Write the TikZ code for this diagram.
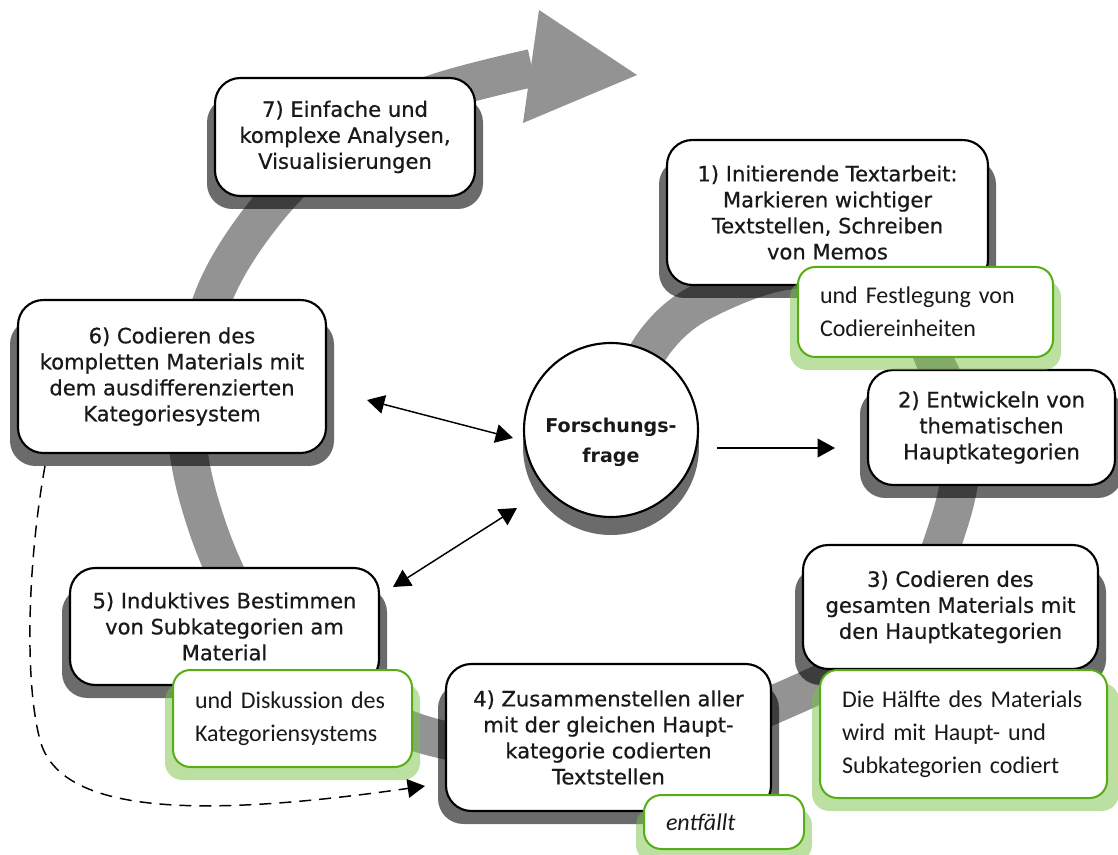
\documentclass[tikz,border=0pt]{standalone}
\usepackage{fontspec}
\usetikzlibrary{arrows.meta}
\newfontfamily\boxfont[FakeBold=0.6]{DejaVu Sans}
\newfontfamily\circfont{DejaVu Sans}
\newfontfamily\notefont{Carlito}
\definecolor{bandgray}{RGB}{147,147,147}
\definecolor{textgray}{RGB}{25,25,25}
\definecolor{greenborder}{RGB}{85,175,20}
\definecolor{greenshad}{RGB}{120,195,70}
\tikzset{
  bandline/.style={line width=28.5pt, draw=bandgray, line cap=butt},
  boxshadow/.style={fill=black, fill opacity=0.58, rounded corners=19pt},
  stagebox/.style={draw=black, line width=1.6pt, fill=white, rounded corners=19pt,
    align=center, inner sep=0pt, text=textgray,
    font=\boxfont\fontsize{15.8pt}{19.5pt}\selectfont},
  greenshadow/.style={fill=greenshad, fill opacity=0.5, rounded corners=13pt},
  notebox/.style={draw=greenborder, line width=1.5pt, fill=white, rounded corners=13pt,
    align=left, inner ysep=0pt, inner xsep=16.5pt, text=black!90,
    font=\notefont\fontsize{18pt}{24.75pt}\selectfont},
  tip/.tip={Triangle[length=13pt,width=14pt]},
  link/.style={line width=1.1pt, -tip},
  duallink/.style={line width=1.1pt, tip-tip},
  dashlink/.style={line width=1.1pt, dash pattern=on 9pt off 6pt, -tip},
}
\begin{document}
\begin{tikzpicture}[x=0.75pt,y=-0.75pt]
\clip (0,0) rectangle (1118,855);
\fill[white] (0,0) rectangle (1118,855);

% spiral band
\draw[bandline] plot[smooth, tension=0.55] coordinates {
  (615,420) (654,343) (705,300) (800,270) (900,305) (938,368) (962,435)
  (950,520) (900,630) (800,693) (620,755) (440,739) (330,688) (250,615)
  (205,520) (187,420) (213,298) (267,210) (340,140) (430,95) (532,68)};
\fill[bandgray] (539,10) -- (637,75) -- (523,123) -- cycle;

% box shadows
\fill[boxshadow] (207,97) rectangle (483,209);
\fill[boxshadow] (659,159) rectangle (996,298);
\fill[boxshadow] (860,389) rectangle (1123,498);
\fill[boxshadow] (795,567) rectangle (1106,685);
\fill[boxshadow] (438,683) rectangle (779,824);
\fill[boxshadow] (62,587) rectangle (387,698);
\fill[boxshadow] (10,319) rectangle (334,466);
\fill[boxshadow] (611,447) circle[radius=66pt];

% stage boxes
\node[stagebox, minimum width=195pt, minimum height=88.5pt] (b7) at (345,137)
  {7) Einfache und\\komplexe Analysen,\\Visualisierungen};
\node[stagebox, minimum width=240.75pt, minimum height=108.75pt] (b1) at (827.5,212.5)
  {1) Initierende Textarbeit:\\Markieren wichtiger\\Textstellen, Schreiben\\von Memos};
\node[stagebox, minimum width=185.25pt, minimum height=86.25pt] (b2) at (991.5,427.5)
  {2) Entwickeln von\\thematischen\\Hauptkategorien};
\node[stagebox, minimum width=221.25pt, minimum height=93pt] (b3) at (950.5,607)
  {3) Codieren des\\gesamten Materials mit\\den Hauptkategorien};
\node[stagebox, minimum width=243.75pt, minimum height=110.25pt] (b4) at (608.5,737.5)
  {4) Zusammenstellen aller\\mit der gleichen Haupt-\\kategorie codierten\\Textstellen};
\node[stagebox, minimum width=231.75pt, minimum height=87.75pt] (b5) at (224.5,626.5)
  {5) Induktives Bestimmen\\von Subkategorien am\\Material};
\node[stagebox, minimum width=231pt, minimum height=114.75pt] (b6) at (172,376.5)
  {6) Codieren des\\kompletten Materials mit\\dem ausdifferenzierten\\Kategoriesystem};

% centre circle
\node[draw=black, line width=1.6pt, fill=white, circle, minimum size=130.5pt, inner sep=0pt,
  label={[align=center, text=textgray, yshift=-9pt,
    font=\circfont\bfseries\fontsize{14.3pt}{22.5pt}\selectfont]center:Forschungs-\\frage}]
  (fq) at (611,430) {};

% green note shadows
\fill[greenshadow] (790,280) rectangle (1061,370);
\fill[greenshadow] (165,683) rectangle (420,780);
\fill[greenshadow] (812,683) rectangle (1119,811);
\fill[greenshadow] (636,808) rectangle (812,862);

% green notes
\node[notebox, minimum width=191.25pt, minimum height=67.5pt, text width=158.25pt] (g1) at (925.5,312)
  {und Festlegung von\\Codiereinheiten};
\node[notebox, minimum width=179.25pt, minimum height=72.75pt, text width=146.25pt] (g5) at (292.5,718.5)
  {und Diskussion des\\Kategoriensystems};
\node[notebox, minimum width=215.25pt, minimum height=96pt, text width=182.25pt] (g3) at (963.5,734)
  {Die Hälfte des Materials\\wird mit Haupt- und\\Subkategorien codiert};
\node[notebox, minimum width=120pt, minimum height=40.5pt, text width=87pt] (ge) at (724,822)
  {\itshape entfällt};

% connectors
\coordinate (a6) at (367,400);
\coordinate (c6) at (513,438);
\coordinate (a5) at (393,587);
\coordinate (c5) at (517,508);
\coordinate (c2) at (717,448);
\coordinate (a2) at (835,448);
\coordinate (dstart) at (45,466);
\coordinate (dend) at (425,786);
\draw[duallink] (a6) -- (c6);
\draw[duallink] (a5) -- (c5);
\draw[link] (c2) -- (a2);
\draw[dashlink] (dstart) .. controls (28,560) and (24,680) .. (40,740)
  .. controls (60,815) and (200,818) .. (dend);
\end{tikzpicture}
\end{document}
